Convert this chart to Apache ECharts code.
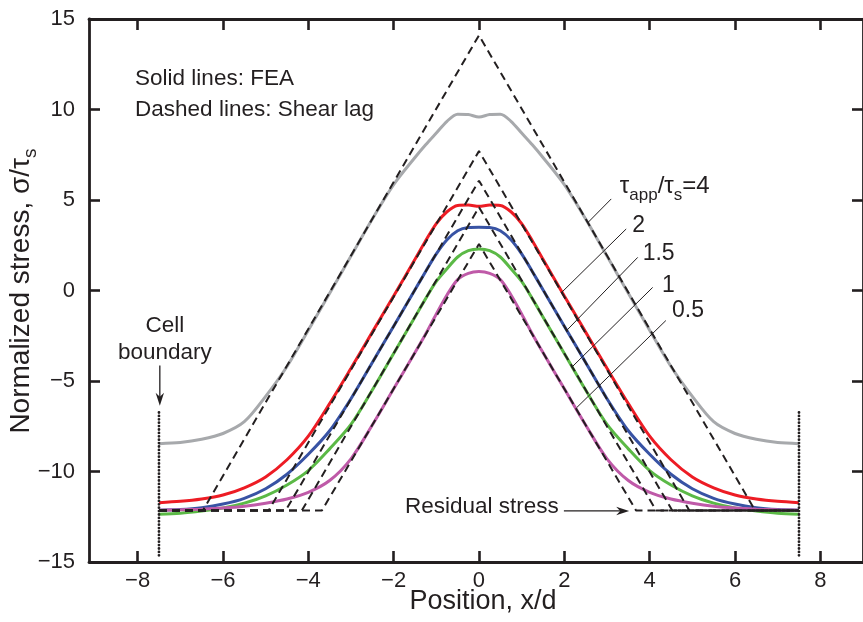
<!DOCTYPE html>
<html><head><meta charset="utf-8">
<script src="https://cdn.jsdelivr.net/npm/echarts@6/dist/echarts.min.js"></script>
<style>html,body{margin:0;padding:0;background:#fff}#c{width:863px;height:622px}</style>
</head><body><div id="c"></div><script>
// ---- data ----
const positionX = [-7.5,-7,-6.5,-6,-5.5,-5,-4.5,-4,-3.5,-3,-2.5,-2,-1.5,-1.25,-1,-0.75,-0.5,-0.25,0,0.25,0.5,0.75,1,1.25,1.5,2,2.5,3,3.5,4,4.5,5,5.5,6,6.5,7,7.5];
const feaTau4  = [-8.46,-8.4,-8.22,-7.9,-7.25,-5.85,-4.2,-2.2,-0.15,1.9,3.95,5.85,7.35,8.05,8.7,9.35,9.74,9.72,9.58,9.72,9.74,9.35,8.7,8.05,7.35,5.85,3.95,1.9,-0.15,-2.2,-4.2,-5.85,-7.25,-7.9,-8.22,-8.4,-8.46];
const feaTau2  = [-11.72,-11.65,-11.52,-11.3,-10.9,-10.3,-9.35,-8.05,-6.25,-4.3,-2.3,-0.3,1.72,2.75,3.7,4.35,4.7,4.72,4.65,4.72,4.7,4.35,3.7,2.75,1.72,-0.3,-2.3,-4.3,-6.25,-8.05,-9.35,-10.3,-10.9,-11.3,-11.52,-11.65,-11.72];
const feaTau15 = [-12.14,-12.1,-12.0,-11.8,-11.48,-10.95,-10.15,-9.05,-7.75,-5.98,-3.98,-1.97,0.04,1.05,2.02,2.8,3.3,3.48,3.5,3.48,3.3,2.8,2.02,1.05,0.04,-1.97,-3.98,-5.98,-7.75,-9.05,-10.15,-10.95,-11.48,-11.8,-12.0,-12.1,-12.14];
const feaTau1  = [-12.36,-12.3,-12.18,-12.02,-11.75,-11.35,-10.75,-9.95,-8.75,-7.4,-5.5,-3.48,-1.46,-0.45,0.5,1.2,1.85,2.2,2.29,2.2,1.85,1.2,0.5,-0.45,-1.46,-3.48,-5.5,-7.4,-8.75,-9.95,-10.75,-11.35,-11.75,-12.02,-12.18,-12.3,-12.36];
const feaTau05 = [-12.14,-12.12,-12.08,-12.02,-11.92,-11.75,-11.52,-11.15,-10.5,-9.3,-7.43,-5.43,-3.43,-2.4,-1.3,-0.25,0.6,0.95,1.05,0.95,0.6,-0.25,-1.3,-2.4,-3.43,-5.43,-7.43,-9.3,-10.5,-11.15,-11.52,-11.75,-11.92,-12.02,-12.08,-12.12,-12.14];
const shearPeak = [14.1, 7.7, 6.07, 4.6, 2.57];      // tau = 4, 2, 1.5, 1, 0.5
const shearEnd  = [6.47, 4.93, 4.53, 4.15, 3.68];     // |x| where residual level is reached
const residualStress = -12.15;
const cellEdge = 7.5;
const cellLineY = [-14.63, -6.74];
const xTicks = [-8,-6,-4,-2,0,2,4,6,8];
const yTicks = [-15,-10,-5,0,5,10,15];

const ink = '#231f20';
const FONT = "'Liberation Sans', Arial, Helvetica, sans-serif";
const colors = ['#a7a9ac', '#ed1c24', '#3853a4', '#5bb946', '#bf5aa8'];
const feaSets = [feaTau4, feaTau2, feaTau15, feaTau1, feaTau05];
const minus = v => String(v).replace('-', '\u2212');

const chart = echarts.init(document.getElementById('c'), null, {renderer: 'canvas'});
const series = [];
feaSets.forEach((arr, k) => {
  series.push({type: 'line', name: 'fea' + k, data: positionX.map((x, i) => [x, arr[i]]),
    showSymbol: false, symbol: 'none', smooth: 0.3, z: 2,
    lineStyle: {color: colors[k], width: 3}});
});
shearPeak.forEach((p, k) => {
  const e = shearEnd[k];
  series.push({type: 'line', name: 'sl' + k,
    data: [[-cellEdge, residualStress], [-e, residualStress], [0, p], [e, residualStress], [cellEdge, residualStress]],
    showSymbol: false, symbol: 'none', z: 3,
    lineStyle: {color: ink, width: 2, type: [8, 5]}});
});
[-cellEdge, cellEdge].forEach(x => {
  series.push({type: 'line', data: [[x, cellLineY[0]], [x, cellLineY[1]]], showSymbol: false, symbol: 'none', z: 4,
    lineStyle: {color: ink, width: 2.8, type: [0, 3.4], cap: 'round'}});
});

const axisCommon = {
  axisLine: {show: true, onZero: false, lineStyle: {color: ink, width: 2.8}},
  axisTick: {show: true, inside: true, length: 11, lineStyle: {color: ink, width: 2.6}},
  splitLine: {show: false}
};
chart.setOption({
  animation: false,
  backgroundColor: '#fff',
  grid: {left: 89, top: 19, right: -6, bottom: 60, containLabel: false},
  xAxis: [
    Object.assign({type: 'value', position: 'bottom', min: -9.14, max: 9.0,
      axisLabel: {show: true, customValues: xTicks, fontSize: 22, fontFamily: FONT, color: ink, margin: 8, formatter: minus}}, axisCommon,
      {axisTick: Object.assign({}, axisCommon.axisTick, {customValues: xTicks})}),
    Object.assign({type: 'value', position: 'top', min: -9.14, max: 9.0, axisLabel: {show: false}}, axisCommon,
      {axisTick: Object.assign({}, axisCommon.axisTick, {customValues: xTicks})})
  ],
  yAxis: [
    Object.assign({type: 'value', position: 'left', min: -15, max: 15, interval: 5,
      axisLabel: {show: true, fontSize: 22, fontFamily: FONT, color: ink, margin: 14, formatter: minus}}, axisCommon),
    Object.assign({type: 'value', position: 'right', min: -15, max: 15, interval: 5, axisLabel: {show: false}}, axisCommon)
  ],
  series: series
});

// ---- annotations (placed in data coordinates) ----
const P = (x, y) => chart.convertToPixel({xAxisIndex: 0, yAxisIndex: 0}, [x, y]);
const g = [];
function txt(s, x, y, align, size, rich) {
  const p = P(x, y);
  g.push({type: 'text', x: p[0], y: p[1], z: 10, style: {text: s, fill: ink, font: size + 'px ' + FONT,
    fontSize: size, fontFamily: FONT, align: align, verticalAlign: 'middle', textAlign: align, textVerticalAlign: 'middle', rich: rich}});
}
function seg(a, b, w) {
  const p = P(a[0], a[1]), q = P(b[0], b[1]);
  g.push({type: 'line', z: 10, shape: {x1: p[0], y1: p[1], x2: q[0], y2: q[1]}, style: {stroke: ink, lineWidth: w}});
}
function arrow(a, b) {
  const p = P(a[0], a[1]), q = P(b[0], b[1]);
  const dx = q[0] - p[0], dy = q[1] - p[1], L = Math.hypot(dx, dy), ux = dx / L, uy = dy / L;
  const len = 13, half = 4.2, notch = 4;
  const bx = q[0] - ux * len, by = q[1] - uy * len;
  g.push({type: 'line', z: 10, shape: {x1: p[0], y1: p[1], x2: q[0] - ux * 6, y2: q[1] - uy * 6}, style: {stroke: ink, lineWidth: 1.3}});
  g.push({type: 'polygon', z: 10, shape: {points: [[q[0], q[1]], [bx - uy * half, by + ux * half], [bx + ux * notch, by + uy * notch], [bx + uy * half, by - ux * half]]}, style: {fill: ink}});
}
const subRich = {
  m: {fontSize: 24, fontFamily: FONT, fill: ink, lineHeight: 24},
  s: {fontSize: 17, fontFamily: FONT, fill: ink, lineHeight: 17, padding: [12, 0, 0, 0], verticalAlign: 'top'}
};
txt('Solid lines: FEA', -8.06, 11.71, 'left', 22.5);
txt('Dashed lines: Shear lag', -8.06, 10.0, 'left', 22.5);
txt('Cell', -7.36, -1.94, 'center', 22.5);
txt('boundary', -7.36, -3.43, 'center', 22.5);
txt('Residual stress', 1.87, -11.96, 'right', 22.5);
txt('{m|\u03c4}{s|app}{m|/\u03c4}{s|s}{m|=4}', 3.3, 5.75, 'left', 24, subRich);
txt('2', 3.74, 3.58, 'center', 23);
txt('1.5', 4.21, 2.02, 'center', 23);
txt('1', 4.44, 0.27, 'center', 23);
txt('0.5', 4.9, -1.12, 'center', 23);
seg([2.56, 3.77], [3.10, 5.06], 1);
seg([1.94, -0.1], [3.45, 3.40], 1);
seg([2.05, -2.22], [3.72, 1.83], 1);
seg([2.17, -4.25], [4.07, 0.17], 1);
seg([2.29, -6.47], [4.38, -1.66], 1);
arrow([-7.48, -4.15], [-7.48, -6.37]);
arrow([1.99, -12.18], [3.52, -12.18]);
// axis titles
const titleRich = {
  m: {fontSize: 28, fontFamily: FONT, fill: ink, lineHeight: 28},
  s: {fontSize: 19, fontFamily: FONT, fill: ink, lineHeight: 19, padding: [14, 0, 0, 0], verticalAlign: 'top'}
};
g.push({type: 'text', x: 483, y: 602, z: 10, style: {text: 'Position, x/d', fill: ink, font: '27px ' + FONT, fontSize: 27, fontFamily: FONT, align: 'center', verticalAlign: 'middle', textAlign: 'center', textVerticalAlign: 'middle'}});
g.push({type: 'text', x: 21, y: 291, rotation: Math.PI / 2, z: 10, style: {text: '{m|Normalized stress, \u03c3/\u03c4}{s|s}', rich: titleRich, fill: ink, fontSize: 28, fontFamily: FONT, align: 'center', verticalAlign: 'middle', textAlign: 'center', textVerticalAlign: 'middle'}});
chart.setOption({graphic: g});
</script></body></html>
